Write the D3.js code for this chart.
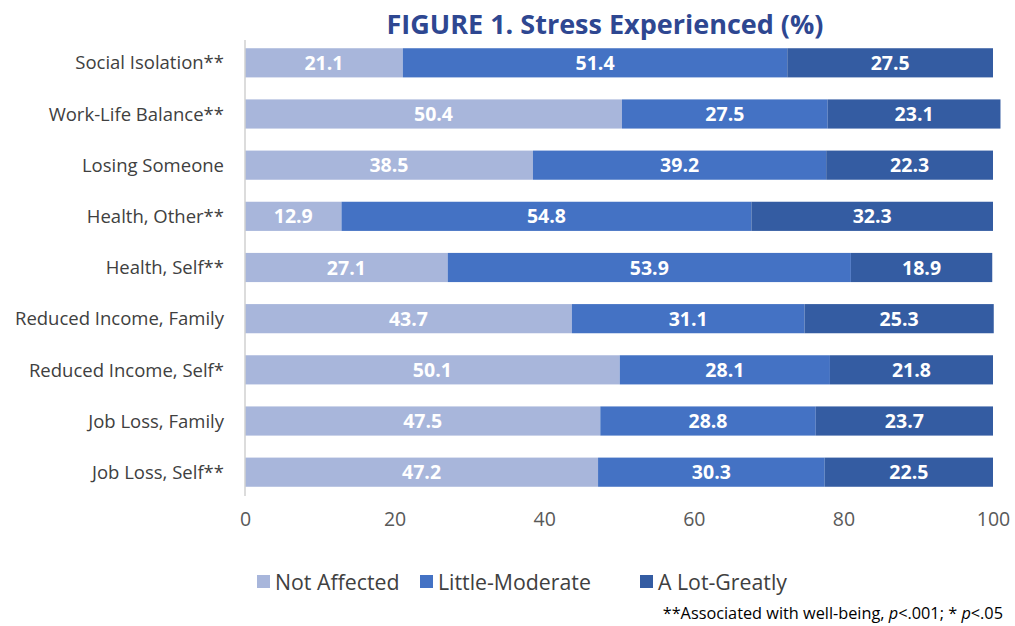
<!DOCTYPE html>
<html><head><meta charset="utf-8">
<script src="https://cdn.jsdelivr.net/npm/d3@7"></script>
<style>body{margin:0;background:#fff}svg{display:block}</style>
</head><body>
<svg id="c" width="1015" height="626"></svg>
<script>
const categories = ["Social Isolation**","Work-Life Balance**","Losing Someone","Health, Other**","Health, Self**","Reduced Income, Family","Reduced Income, Self*","Job Loss, Family","Job Loss, Self**"];
const notAffected = [21.1,50.4,38.5,12.9,27.1,43.7,50.1,47.5,47.2];
const littleModerate = [51.4,27.5,39.2,54.8,53.9,31.1,28.1,28.8,30.3];
const aLotGreatly = [27.5,23.1,22.3,32.3,18.9,25.3,21.8,23.7,22.5];
const seriesNames = ["Not Affected","Little-Moderate","A Lot-Greatly"];
const xTicks = [0,20,40,60,80,100];
const colors = ["#A8B6DB","#4472C4","#345CA2"];

const svg = d3.select("#c");
const font = "'Open Sans', 'Noto Sans', sans-serif";
const x = d3.scaleLinear().domain([0,100]).range([245,993]);
const y = d3.scaleBand().domain(categories).range([38,497]).paddingInner(0.43).paddingOuter(0.2);

svg.append("text").attr("x",605).attr("y",34).attr("text-anchor","middle")
  .attr("font-family",font).attr("font-weight","bold").attr("font-size",27)
  .attr("fill","#2E4791").text("FIGURE 1. Stress Experienced (%)");

const rows = categories.map((c,i)=>({c, v:[notAffected[i],littleModerate[i],aLotGreatly[i]]}));
const stack = d3.stack().keys([0,1,2]).value((d,k)=>d.v[k])(rows);

stack.forEach((layer,k)=>{
  const g = svg.append("g");
  layer.forEach(seg=>{
    const d = seg.data;
    g.append("rect").attr("x",x(seg[0])).attr("y",y(d.c)).attr("width",x(seg[1])-x(seg[0]))
      .attr("height",y.bandwidth()).attr("fill",colors[k]);
    g.append("text").attr("x",(x(seg[0])+x(seg[1]))/2).attr("y",y(d.c)+y.bandwidth()/2)
      .attr("dy","0.36em").attr("text-anchor","middle").attr("font-family",font)
      .attr("font-weight","bold").attr("font-size",19.5).attr("fill","#fff")
      .text(d.v[k].toFixed(1));
  });
});

svg.append("line").attr("x1",245).attr("x2",245).attr("y1",40).attr("y2",496).attr("stroke","#d0d0d0").attr("stroke-width",1.5);
svg.append("g").selectAll("text").data(categories).join("text")
  .attr("x",224).attr("y",d=>y(d)+y.bandwidth()/2).attr("dy","0.36em").attr("text-anchor","end")
  .attr("font-family",font).attr("font-size",18.5).attr("fill","#404040").text(d=>d);

const xa = svg.append("g").attr("transform","translate(0,512)")
  .call(d3.axisBottom(x).tickValues(xTicks).tickSize(0).tickPadding(0));
xa.select(".domain").remove();
xa.selectAll("text").attr("font-family",font).attr("font-size",19.5).attr("fill","#595959").attr("dy","0.71em");

const lx = [257,420,640];
seriesNames.forEach((n,k)=>{
  svg.append("rect").attr("x",lx[k]).attr("y",575).attr("width",13).attr("height",13).attr("fill",colors[k]);
  svg.append("text").attr("x",lx[k]+18).attr("y",582).attr("dy","0.36em").attr("font-family",font)
    .attr("font-size",21.3).attr("fill","#404040").text(n);
});

const fn = svg.append("text").attr("x",1003).attr("y",619).attr("text-anchor","end")
  .attr("font-family",font).attr("font-size",16.3).attr("fill","#000");
fn.append("tspan").text("**Associated with well-being, ");
fn.append("tspan").attr("font-style","italic").text("p");
fn.append("tspan").text("<.001; * ");
fn.append("tspan").attr("font-style","italic").text("p");
fn.append("tspan").text("<.05");
</script>
</body></html>
